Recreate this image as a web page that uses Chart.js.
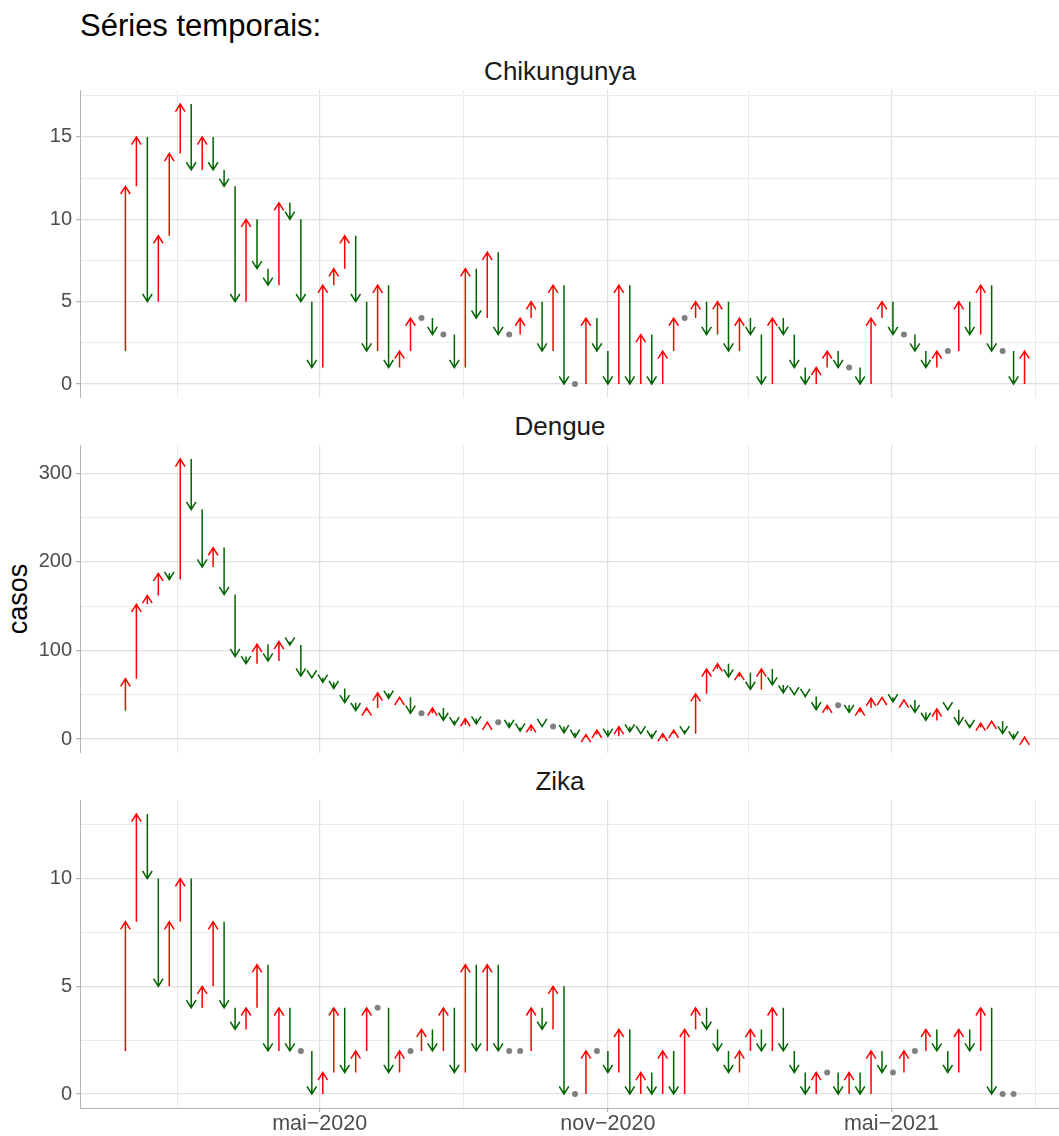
<!DOCTYPE html>
<html>
<head>
<meta charset="utf-8">
<script src="https://cdn.jsdelivr.net/npm/chart.js@4.4.0/dist/chart.umd.min.js"></script>
<style>
  body { margin: 0; background: #fff; width: 1059px; height: 1136px; position: relative; overflow: hidden;
         font-family: 'Liberation Sans', Arial, sans-serif; }
  .txt { position: absolute; line-height: 1; white-space: nowrap; }
  .strip { font-size: 26px; color: #1a1a1a; left: 560px; transform: translateX(-50%); }
  canvas { position: absolute; left: 0; }
</style>
</head>
<body>
<div class="txt" style="left:80px; top:10px; font-size:31px; color:#000;">Séries temporais:</div>
<div class="txt strip" style="top:58px;">Chikungunya</div>
<div class="txt strip" style="top:413px;">Dengue</div>
<div class="txt strip" style="top:768px;">Zika</div>
<div class="txt" style="left:18px; top:599px; font-size:27px; color:#000; transform: translate(-50%, -50%) rotate(-90deg);">casos</div>

<canvas id="chik" width="1059" height="308" style="top:90px"></canvas>
<canvas id="dengue" width="1059" height="308" style="top:445px"></canvas>
<canvas id="zika" width="1059" height="336" style="top:800px"></canvas>

<script>
// semana anterior à primeira seta (o primeiro valor é só o ponto de partida)
const firstWeek = '2019-12-22';

// casos semanais
const chikungunya = [2,
  12, 15, 5, 9, 14, 17, 13, 15, 13, 12, 5, 10, 7, 6, 11, 10, 5, 1, 6, 7, 9, 5, 2, 6, 1, 2,
  4, 4, 3, 3, 1, 7, 4, 8, 3, 3, 4, 5, 2, 6, 0, 0, 4, 2, 0, 6, 0, 3, 0, 2, 4, 4, 5, 3, 5,
  2, 4, 3, 0, 4, 3, 1, 0, 1, 2, 1, 1, 0, 4, 5, 3, 3, 2, 1, 2, 2, 5, 3, 6, 2, 2, 0, 2];
const dengue = [32,
  68, 152, 162, 187, 180, 316, 259, 194, 216, 163, 93, 85, 107, 88, 110, 106, 71, 69, 64, 57, 41, 32, 35, 52, 46, 47,
  29, 29, 35, 21, 16, 23, 17, 19, 19, 13, 9, 16, 14, 14, 7, 2, 5, 10, 3, 14, 8, 6, 1, 6, 10, 6, 51, 79, 85,
  70, 75, 56, 79, 61, 52, 50, 48, 33, 38, 38, 30, 35, 46, 47, 42, 44, 30, 21, 34, 33, 16, 13, 18, 20, 6, 0, 2];
const zika = [2,
  8, 13, 10, 5, 8, 10, 4, 5, 8, 4, 3, 4, 6, 2, 4, 2, 2, 0, 1, 4, 1, 2, 4, 4, 1, 2,
  2, 3, 2, 4, 1, 6, 2, 6, 2, 2, 2, 4, 3, 5, 0, 0, 2, 2, 1, 3, 0, 1, 0, 2, 0, 3, 4, 3, 2,
  1, 2, 3, 2, 4, 2, 1, 0, 1, 1, 0, 1, 0, 2, 1, 1, 2, 2, 3, 2, 1, 3, 2, 4, 0, 0, 0];

// eixos
const xBreaks = ['2020-05-01', '2020-11-01', '2021-05-01'];
const xLabels = ['mai\u22122020', 'nov\u22122020', 'mai\u22122021'];
const xMinorBreaks = ['2020-01-31', '2020-08-01', '2021-01-30', '2021-08-01'];
const xRange = ['2019-11-30', '2021-08-16'];

const chikTicks = [0, 5, 10, 15], chikMinor = [2.5, 7.5, 12.5, 17.5], chikRange = [-0.85, 17.85];
const dengueTicks = [0, 100, 200, 300], dengueMinor = [50, 150, 250], dengueRange = [-15.8, 331.8];
const zikaTicks = [0, 5, 10], zikaMinor = [2.5, 7.5, 12.5], zikaRange = [-0.65, 13.65];

const upColor = '#ff0000';
const downColor = '#006400';
const flatColor = '#808080';
const gridMajor = '#e0e0e0';
const gridMinor = '#eaeaea';
const axisColor = '#b5b5b5';
const tickFont = { family: "'Liberation Sans', Arial, sans-serif", size: 20 };

const DAY = 86400000;
const origin = Date.UTC(2020, 4, 1);
function toDay(s) {
  const [y, m, d] = s.split('-').map(Number);
  return (Date.UTC(y, m - 1, d) - origin) / DAY;
}

const firstDay = toDay(firstWeek);
const xTicks = xBreaks.map((d, i) => ({ value: toDay(d), label: xLabels[i], major: true }))
  .concat(xMinorBreaks.map(d => ({ value: toDay(d), label: '', major: false })))
  .sort((a, b) => a.value - b.value);

function arrowPlugin(values, days) {
  return {
    id: 'arrows',
    afterDatasetsDraw(chart) {
      const { ctx, chartArea, scales: { x, y } } = chart;
      const head = 9, ang = 32 * Math.PI / 180;
      ctx.save();
      ctx.beginPath();
      ctx.rect(chartArea.left, chartArea.top, chartArea.width, chartArea.height);
      ctx.clip();
      ctx.lineWidth = 1.5;
      for (let i = 1; i < values.length; i++) {
        const a = values[i - 1], b = values[i];
        if (a === b) continue;
        const px = x.getPixelForValue(days[i]);
        const y0 = y.getPixelForValue(a);
        const y1 = y.getPixelForValue(b);
        const dir = b > a ? 1 : -1;
        const hx = head * Math.sin(ang), hy = head * Math.cos(ang) * dir;
        ctx.strokeStyle = b > a ? upColor : downColor;
        ctx.beginPath();
        ctx.moveTo(px, y0);
        ctx.lineTo(px, y1);
        ctx.moveTo(px - hx, y1 + hy);
        ctx.lineTo(px, y1);
        ctx.lineTo(px + hx, y1 + hy);
        ctx.stroke();
      }
      ctx.restore();
    }
  };
}

function makePanel(id, values, yMajor, yMinor, yRange, showX) {
  const days = values.map((_, i) => firstDay + 7 * i);
  const flat = [];
  for (let i = 1; i < values.length; i++) {
    if (values[i] === values[i - 1]) flat.push({ x: days[i], y: values[i] });
  }
  const yTicks = yMajor.map(v => ({ value: v, major: true }))
    .concat(yMinor.map(v => ({ value: v, major: false })))
    .sort((a, b) => a.value - b.value);
  const yMajorSet = new Set(yMajor);
  const xMajorSet = new Set(xTicks.filter(t => t.major).map(t => t.value));

  new Chart(document.getElementById(id), {
    type: 'scatter',
    data: {
      datasets: [{
        data: flat,
        pointRadius: 3,
        pointHoverRadius: 3,
        pointBackgroundColor: flatColor,
        pointBorderWidth: 0
      }]
    },
    options: {
      responsive: false,
      animation: false,
      events: [],
      layout: { padding: 0, autoPadding: false },
      plugins: { legend: { display: false }, tooltip: { enabled: false } },
      scales: {
        x: {
          type: 'linear',
          min: toDay(xRange[0]),
          max: toDay(xRange[1]),
          afterBuildTicks: s => { s.ticks = xTicks.map(t => ({ value: t.value })); },
          afterFit: s => { s.height = showX ? 28 : 0; s.paddingLeft = 0; s.paddingRight = 0; },
          ticks: {
            display: showX,
            autoSkip: false,
            maxRotation: 0,
            padding: 1,
            font: { ...tickFont, size: 21.5, lineHeight: 1 },
            color: '#4d4d4d',
            callback: (v, i) => xTicks[i].label
          },
          grid: {
            color: c => xMajorSet.has(c.tick.value) ? gridMajor : gridMinor,
            lineWidth: c => xMajorSet.has(c.tick.value) ? 1.2 : 1,
            drawTicks: showX,
            tickLength: 4,
            tickColor: c => xMajorSet.has(c.tick.value) ? axisColor : 'rgba(0,0,0,0)'
          },
          border: { display: true, color: axisColor, width: 1 }
        },
        y: {
          type: 'linear',
          min: yRange[0],
          max: yRange[1],
          afterBuildTicks: s => { s.ticks = yTicks.map(t => ({ value: t.value })); },
          afterFit: s => { s.width = 80; s.paddingTop = 0; s.paddingBottom = 0; },
          ticks: {
            autoSkip: false,
            padding: 4,
            font: tickFont,
            color: '#4d4d4d',
            callback: v => yMajorSet.has(v) ? String(v) : ''
          },
          grid: {
            color: c => yMajorSet.has(c.tick.value) ? gridMajor : gridMinor,
            lineWidth: c => yMajorSet.has(c.tick.value) ? 1.2 : 1,
            tickLength: 4,
            tickColor: c => yMajorSet.has(c.tick.value) ? axisColor : 'rgba(0,0,0,0)'
          },
          border: { display: true, color: axisColor, width: 1 }
        }
      }
    },
    plugins: [arrowPlugin(values, days)]
  });
}

makePanel('chik', chikungunya, chikTicks, chikMinor, chikRange, false);
makePanel('dengue', dengue, dengueTicks, dengueMinor, dengueRange, false);
makePanel('zika', zika, zikaTicks, zikaMinor, zikaRange, true);
</script>
</body>
</html>
